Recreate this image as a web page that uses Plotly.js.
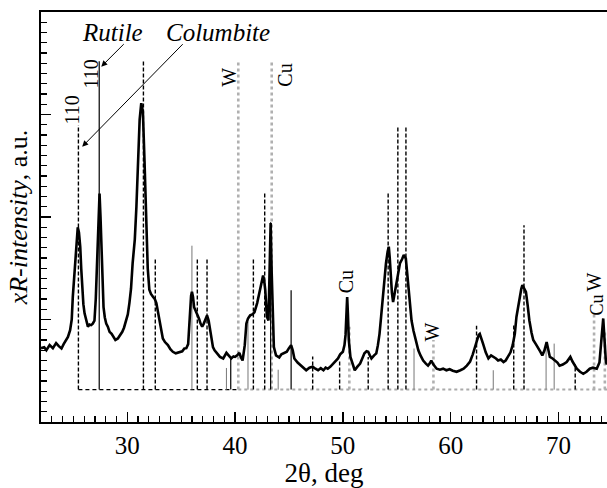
<!DOCTYPE html>
<html>
<head>
<meta charset="utf-8">
<script src="https://cdn.plot.ly/plotly-3.0.1.min.js"></script>
<style>html,body{margin:0;padding:0;background:#fff;}#chart{width:607px;height:488px;}</style>
</head>
<body>
<div id="chart"></div>
<script>
// Measured XRD pattern (2θ, intensity in arbitrary units)
const twoTheta = [22.0,22.3,22.5,22.8,23.1,23.4,23.65,23.9,24.1,24.3,24.5,24.7,24.85,24.95,25.1,25.2,25.3,25.41,25.52,25.64,25.73,25.82,25.93,26.04,26.2,26.35,26.5,26.65,26.8,26.96,27.08,27.18,27.3,27.43,27.52,27.6,27.7,27.8,27.92,28.05,28.2,28.36,28.55,28.73,28.9,29.13,29.3,29.54,29.7,29.9,30.05,30.2,30.35,30.5,30.7,30.85,31.0,31.15,31.3,31.45,31.6,31.75,31.9,32.05,32.2,32.4,32.55,32.7,32.85,33.0,33.15,33.3,33.5,33.77,34.0,34.23,34.5,34.86,35.1,35.3,35.48,35.65,35.8,35.92,36.0,36.1,36.2,36.35,36.5,36.65,36.8,36.95,37.1,37.25,37.4,37.55,37.7,37.95,38.1,38.3,38.6,38.9,39.05,39.2,39.4,39.65,39.85,40.0,40.2,40.4,40.55,40.7,40.9,41.05,41.2,41.4,41.6,41.8,42.05,42.3,42.45,42.6,42.7,42.8,42.9,42.96,43.1,43.2,43.3,43.4,43.5,43.6,43.8,44.1,44.3,44.5,44.8,45.0,45.2,45.35,45.5,45.8,46.0,46.2,46.4,46.6,46.9,47.2,47.45,47.7,47.95,48.2,48.4,48.6,48.85,49.1,49.3,49.55,49.75,50.0,50.15,50.25,50.35,50.4,50.47,50.55,50.7,50.9,51.1,51.35,51.6,51.8,52.0,52.2,52.35,52.5,52.65,52.9,53.1,53.25,53.4,53.55,53.7,53.85,54.0,54.15,54.26,54.35,54.45,54.55,54.66,54.8,54.97,55.15,55.3,55.5,55.65,55.84,55.95,56.05,56.2,56.37,56.55,56.7,56.85,57.0,57.2,57.45,57.7,57.9,58.05,58.2,58.4,58.7,59.0,59.3,59.6,59.9,60.2,60.55,60.9,61.2,61.5,61.8,62.05,62.25,62.45,62.6,62.7,62.85,63.0,63.25,63.5,63.75,63.95,64.2,64.4,64.65,64.9,65.1,65.3,65.55,65.75,65.95,66.1,66.25,66.4,66.55,66.65,66.8,66.98,67.15,67.3,67.5,67.66,67.9,68.1,68.3,68.5,68.7,68.9,69.05,69.2,69.45,69.7,69.9,70.1,70.4,70.76,70.95,71.1,71.3,71.5,71.7,72.0,72.3,72.6,72.9,73.2,73.55,73.8,74.0,74.15,74.3,74.4,74.5];
const intensity = [7.2,7.3,7.0,7.5,7.2,7.7,7.4,7.17,7.6,8.0,8.3,8.95,10.0,12.2,14.5,16.1,18.0,19.0,18.5,17.1,15.0,12.9,11.5,10.6,9.8,9.3,9.5,9.45,9.6,9.9,12.0,15.5,19.5,22.3,20.0,17.1,14.0,11.2,10.2,9.6,9.3,8.8,8.6,8.3,8.0,8.15,8.4,8.8,9.2,9.9,10.5,11.6,13.0,15.5,17.8,21.0,26.0,29.5,31.1,30.3,25.5,19.5,15.0,12.9,12.5,12.2,12.0,11.6,10.8,9.9,9.0,8.15,7.8,7.5,7.1,6.85,6.7,6.85,6.9,7.17,7.2,7.6,10.6,12.3,12.7,12.2,11.2,10.8,10.6,10.1,9.6,9.3,9.6,10.1,10.4,9.9,8.95,7.3,7.0,6.7,6.35,6.2,6.5,6.75,6.5,6.2,6.4,6.35,6.5,6.75,6.3,6.0,7.5,9.6,10.1,10.4,10.5,10.7,11.6,12.9,13.8,14.3,13.8,12.9,11.2,10.25,9.9,14.0,19.4,14.5,9.5,7.3,6.5,6.3,6.6,6.7,6.85,7.2,7.5,7.0,6.2,5.8,5.6,5.4,5.2,5.05,5.3,5.4,5.2,5.05,5.25,5.05,5.3,5.2,5.4,5.7,6.0,6.2,6.6,6.85,7.5,8.5,11.0,12.2,10.5,8.0,6.35,5.6,5.05,5.4,5.7,6.2,6.7,6.9,6.85,6.5,6.2,6.5,6.7,7.5,8.6,10.3,12.2,14.0,15.5,16.6,17.1,16.0,14.2,12.6,11.7,12.6,13.8,14.7,15.5,15.9,16.3,15.95,14.7,13.2,11.5,9.9,8.9,8.3,7.6,7.0,6.5,6.0,5.7,5.5,5.7,6.0,5.6,5.2,5.1,5.2,5.05,5.15,5.0,4.9,5.05,5.2,5.5,5.9,6.6,7.3,8.1,8.5,8.6,8.2,7.65,6.8,6.2,6.5,6.4,6.2,6.0,6.1,5.85,6.0,6.35,6.8,7.5,8.6,10.25,11.3,12.2,13.0,13.35,13.1,12.7,11.3,9.9,8.7,8.0,7.6,7.3,6.9,6.5,7.0,7.8,7.0,6.35,6.2,6.0,5.8,5.5,5.6,5.85,6.1,6.35,5.9,5.5,5.2,4.9,4.7,4.9,5.2,5.3,5.2,5.8,8.0,10.1,7.5,5.85,5.6];

// Reference stick patterns (baseline level and line tops)
const stickBase = 3.16;
const columbitePos = [25.47,31.5,32.6,36.5,37.4,41.7,42.75,47.2,49.7,52.35,54.2,55.1,55.85,62.4,65.85,66.8,71.55];
const columbiteTop = [28.96,35.3,16.05,15.9,16.05,15.86,22.4,6.4,6.0,6.35,22.3,28.9,28.9,9.4,9.5,19.2,5.6];
const rutilePos = [27.4,39.6,43.3,45.2];
const rutileTop = [35.2,6.35,19.5,12.86];
const minorPos = [36.0,39.2,41.2,44.0,56.6,63.95,68.85,69.6];
const minorTop = [17.2,5.27,9.77,5.1,7.17,5.05,7.6,7.65];
const substratePos = [40.3,43.4,50.6,58.4,73.3,74.3];
const substrateTop = [35.2,35.2,9.3,8.0,10.6,9.0];
const baseColumbite = [25.47, 40.3];
const baseSubstrate = [40.3, 74.5];

function sticks(pos, top) {
  const x = [], y = [];
  pos.forEach((p, i) => { x.push(p, p, null); y.push(stickBase, top[i], null); });
  return {x, y};
}

const serif = 'Liberation Serif';
const sC = sticks(columbitePos, columbiteTop);
const sR = sticks(rutilePos, rutileTop);
const sM = sticks(minorPos, minorTop);
const sS = sticks(substratePos, substrateTop);

const traces = [
  {x: baseColumbite, y: [stickBase, stickBase], mode: 'lines', line: {color: '#000', width: 1.3, dash: '4px,3px'}, hoverinfo: 'skip'},
  {x: baseSubstrate, y: [stickBase, stickBase], mode: 'lines', line: {color: '#aaa', width: 2, dash: 'dot'}, hoverinfo: 'skip'},
  {x: sS.x, y: sS.y, mode: 'lines', line: {color: '#b0b0b0', width: 2.6, dash: 'dot'}, connectgaps: false, hoverinfo: 'skip'},
  {x: sM.x, y: sM.y, mode: 'lines', line: {color: '#777', width: 1}, connectgaps: false, hoverinfo: 'skip'},
  {x: sR.x, y: sR.y, mode: 'lines', line: {color: '#000', width: 1.2}, connectgaps: false, hoverinfo: 'skip'},
  {x: sC.x, y: sC.y, mode: 'lines', line: {color: '#000', width: 1.4, dash: '4px,2px'}, connectgaps: false, hoverinfo: 'skip'},
  {x: twoTheta, y: intensity, mode: 'lines', line: {color: '#000', width: 2.6}, hoverinfo: 'skip'}
];

const lbl = (text, x, y, size) => ({text, x, y, xref: 'x', yref: 'y', showarrow: false, textangle: -90,
  font: {family: serif, size: size || 20, color: '#000'}, xanchor: 'center', yanchor: 'middle'});

const layout = {
  width: 607, height: 488,
  margin: {l: 41, r: 0, t: 12, b: 66},
  paper_bgcolor: '#fff', plot_bgcolor: '#fff',
  showlegend: false,
  font: {family: serif, color: '#000'},
  xaxis: {
    range: [22, 74.5], showgrid: false, zeroline: false,
    showline: true, linecolor: '#000', linewidth: 2, mirror: true,
    ticks: 'inside', ticklen: 10, tickwidth: 1.5, tickcolor: '#000', dtick: 10, tick0: 0,
    minor: {ticks: 'inside', ticklen: 6, tickwidth: 1.2, tickcolor: '#000', dtick: 1, showgrid: false},
    tickfont: {family: serif, size: 25, color: '#000'},
    title: {text: '2θ, deg', font: {family: serif, size: 27, color: '#000'}, standoff: 20}
  },
  yaxis: {
    range: [0, 40], showgrid: false, zeroline: false,
    showline: true, linecolor: '#000', linewidth: 2,
    ticks: 'inside', ticklen: 10, tickwidth: 1.5, tickcolor: '#000', dtick: 10, tick0: 0,
    minor: {ticks: 'inside', ticklen: 6, tickwidth: 1.2, tickcolor: '#000', dtick: 1, showgrid: false},
    showticklabels: false,
    title: {text: '<i>xR-intensity</i>, a.u.', font: {family: serif, size: 26, color: '#000'}, standoff: 4}
  },
  annotations: [
    {text: '<i>Rutile</i>', x: 28.64, y: 37.96, xref: 'x', yref: 'y', showarrow: false, font: {family: serif, size: 25, color: '#000'}},
    {text: '<i>Columbite</i>', x: 38.38, y: 37.96, xref: 'x', yref: 'y', showarrow: false, font: {family: serif, size: 25, color: '#000'}},
    {text: '', x: 27.59, y: 34.67, xref: 'x', yref: 'y', showarrow: true, ax: 24, ay: -24, arrowhead: 2, arrowsize: 1.2, arrowwidth: 1, arrowcolor: '#000'},
    {text: '', x: 25.82, y: 26.86, xref: 'x', yref: 'y', showarrow: true, ax: 102, ay: -104, arrowhead: 2, arrowsize: 1.2, arrowwidth: 1, arrowcolor: '#000'},
    lbl('110', 24.92, 30.44),
    lbl('110', 26.59, 33.96),
    lbl('W', 39.41, 33.66),
    lbl('Cu', 44.61, 33.86),
    lbl('Cu', 50.3, 13.64),
    lbl('W', 58.3, 8.76),
    lbl('W', 73.28, 13.7),
    lbl('Cu', 73.6, 11.4, 18)
  ]
};

Plotly.newPlot('chart', traces, layout, {staticPlot: true, displayModeBar: false});
</script>
</body>
</html>
